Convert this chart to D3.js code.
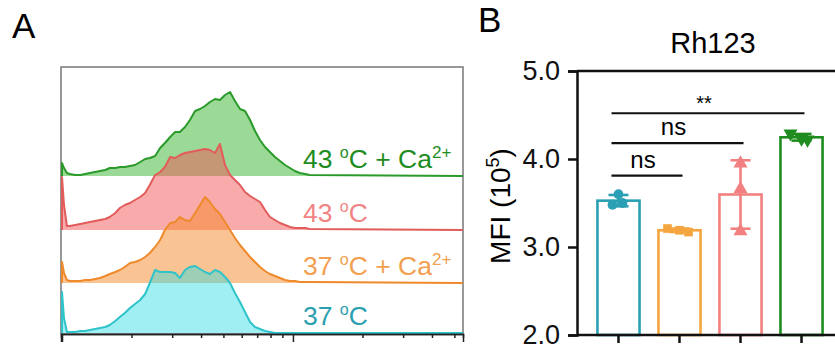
<!DOCTYPE html>
<html>
<head>
<meta charset="utf-8">
<script src="https://cdn.jsdelivr.net/npm/d3@7"></script>
<style>
  body { margin: 0; background: #fff; }
  svg { display: block; }
  text { font-family: "Liberation Sans", Arial, sans-serif; }
</style>
</head>
<body>
<svg width="835" height="351"></svg>
<script>
// ---------- data: panel A (flow histograms, Rh123 intensity, log axis) ----------
const binIntensity = [1000, 1020, 1050, 1080, 1140, 1200, 1260, 1320, 1390, 1460, 1540, 1610, 1700,
  1780, 1870, 1970, 2070, 2180, 2290, 2400, 2530, 2660, 2790, 2940, 3090, 3240, 3410, 3580, 3770,
  3960, 4160, 4370, 4600, 4830, 5080, 5340, 5610, 5900, 6200, 6520, 6850, 7200, 7570, 7950, 8360,
  8790, 9240, 9710, 10200, 10700, 11300, 11800];

const count37 = [41, 15, 1, 1, 1, 2, 2, 3, 4, 5, 6, 8, 12, 16, 20, 25, 29, 33, 39, 50, 63, 61, 61, 61,
  60, 55, 63, 66, 67, 64, 61, 59, 63, 61, 56, 50, 40, 31, 21, 11, 6, 4, 2, 1, 0, 0, 0, 0, 0, 0, 0, 0];
const count37Ca = [21, 10, 3, 2, 2, 2, 3, 3, 4, 5, 7, 9, 11, 13, 16, 20, 21, 23, 26, 30, 36, 43, 53, 60,
  61, 66, 63, 62, 70, 78, 86, 81, 74, 69, 61, 53, 45, 38, 32, 26, 21, 16, 12, 9, 7, 5, 3, 2, 2, 1, 1, 1];
const count43 = [53, 25, 4, 4, 5, 6, 7, 8, 9, 10, 11, 13, 17, 22, 25, 27, 30, 33, 37, 45, 55, 58, 63, 73,
  72, 75, 77, 78, 79, 80, 81, 80, 77, 86, 65, 55, 50, 45, 38, 34, 31, 28, 20, 13, 10, 7, 5, 3, 2, 2, 2, 1];
const count43Ca = [13, 8, 3, 2, 1, 1, 2, 3, 4, 5, 6, 8, 8, 9, 9, 10, 11, 14, 17, 18, 20, 28, 33, 39,
  44, 44, 49, 56, 65, 67, 70, 74, 77, 76, 81, 84, 75, 67, 65, 56, 45, 36, 29, 24, 19, 15, 11, 8, 5, 3, 2, 1];

const majorTicks = [1000, 10000];
const minorTicks = [2000, 3000, 4000, 5000, 6000, 7000, 8000, 9000, 20000, 30000, 40000, 50000];

// ---------- data: panel B (MFI bars) ----------
const groups = ['37 °C', '37 °C + Ca2+', '43 °C', '43 °C + Ca2+'];
const groupTemp = ['37', '37', '43', '43'];
const groupCa = [false, true, false, true];
const mfiReplicates = [
  [3.60, 3.48, 3.50],
  [3.21, 3.19, 3.17],
  [3.95, 3.66, 3.18],
  [4.29, 4.23, 4.22]
];
const yTicks = [2.0, 3.0, 4.0, 5.0];
const comparisons = [
  { a: 0, b: 1, label: 'ns', level: 3.81 },
  { a: 0, b: 2, label: 'ns', level: 4.18 },
  { a: 0, b: 3, label: '**', level: 4.52 }
];

// ---------- styles ----------
const lineColor = ['#2fc3ca', '#ee8a2c', '#e25c5c', '#2a9a2a'];
const fillColor = ['rgba(45,222,228,0.45)', 'rgba(245,135,40,0.5)', 'rgba(242,80,80,0.48)', 'rgba(55,180,45,0.5)'];
const textColor = ['#2a9fb0', '#f2a050', '#f08484', '#1e8c1e'];
const barColor = ['#2b9fb3', '#f5a540', '#f28080', '#1e8c1e'];

const svg = d3.select('svg');

// ================= Panel A =================
svg.append('text').attr('x', 12).attr('y', 38).attr('font-size', '35px').text('A');

const boxL = 61, boxR = 463, boxT = 67, boxB = 334;
const x = d3.scaleLog().domain([990, 54500]).range([boxL, boxR]);
const yCount = d3.scaleLinear().domain([0, 100]).range([0, 100]);
const laneBase = d3.scaleOrdinal().domain([0, 1, 2, 3]).range([333, 283, 230, 176]);

svg.append('rect')
  .attr('x', boxL).attr('y', boxT)
  .attr('width', boxR - boxL).attr('height', boxB - boxT)
  .attr('fill', 'none').attr('stroke', '#777').attr('stroke-width', 1.5);

const seriesCounts = [count37, count37Ca, count43, count43Ca];
const gHist = svg.append('g');

// draw from the top lane down so lower lanes overlay upper ones
[3, 2, 1, 0].forEach(function (i) {
  const base = laneBase(i);
  const pts = [{ v: binIntensity[0], c: 0 }]
    .concat(binIntensity.map(function (v, k) { return { v: v, c: seriesCounts[i][k] }; }))
    .concat([{ v: x.domain()[1], c: 0 }]);
  const area = d3.area()
    .x(function (d) { return x(d.v); })
    .y0(base)
    .y1(function (d) { return base - yCount(d.c); });
  const line = d3.line()
    .x(function (d) { return x(d.v); })
    .y(function (d) { return base - yCount(d.c); });
  gHist.append('path').attr('d', area(pts)).attr('fill', fillColor[i]);
  gHist.append('path').attr('d', line(pts))
    .attr('fill', 'none').attr('stroke', lineColor[i])
    .attr('stroke-width', 2).attr('stroke-linejoin', 'round');
});

// bottom log axis
const axMajor = svg.append('g').attr('transform', 'translate(0,' + boxB + ')')
  .call(d3.axisBottom(x).tickValues(majorTicks).tickSize(8).tickFormat(''));
const axMinor = svg.append('g').attr('transform', 'translate(0,' + boxB + ')')
  .call(d3.axisBottom(x).tickValues(minorTicks).tickSize(4).tickFormat(''));
[axMajor, axMinor].forEach(function (ax) {
  ax.select('.domain').attr('stroke', '#222').attr('stroke-width', 1.5);
  ax.selectAll('.tick line').attr('stroke', '#222').attr('stroke-width', 1.5);
});

// lane labels
groups.forEach(function (name, i) {
  const t = svg.append('text')
    .attr('x', 303).attr('y', laneBase(i) - 8)
    .attr('font-size', '26.5px').attr('fill', textColor[i]);
  t.append('tspan').text(groupTemp[i] + ' ');
  t.append('tspan').attr('font-size', '16px').attr('dy', -10).text('o');
  t.append('tspan').attr('dy', 10).text('C');
  if (groupCa[i]) {
    t.append('tspan').text(' + Ca');
    t.append('tspan').attr('font-size', '17px').attr('dy', -10).text('2+');
  }
});

// ================= Panel B =================
svg.append('text').attr('x', 478).attr('y', 32).attr('font-size', '35px').text('B');

const axX = 577;
const xb = d3.scaleBand().domain(groups).range([577, 843]).paddingInner(0.31).paddingOuter(0.335);
const yb = d3.scaleLinear().domain([2, 5]).range([335, 71]);

svg.append('text')
  .attr('x', 713).attr('y', 53).attr('text-anchor', 'middle')
  .attr('font-size', '29px').text('Rh123');

// y label
const yl = svg.append('text')
  .attr('transform', 'translate(510,' + 206 + ') rotate(-90)')
  .attr('text-anchor', 'middle').attr('font-size', '28px');
yl.append('tspan').text('MFI (10');
yl.append('tspan').attr('font-size', '18px').attr('dy', -11).text('5');
yl.append('tspan').attr('dy', 11).text(')');

// bars
const means = mfiReplicates.map(function (r) { return d3.mean(r); });
const sds = mfiReplicates.map(function (r) { return d3.deviation(r); });

svg.append('g').selectAll('rect')
  .data(groups)
  .enter().append('rect')
  .attr('x', function (d) { return xb(d); })
  .attr('y', function (d, i) { return yb(means[i]); })
  .attr('width', xb.bandwidth())
  .attr('height', function (d, i) { return yb(2) - yb(means[i]); })
  .attr('fill', '#fff')
  .attr('stroke', function (d, i) { return barColor[i]; })
  .attr('stroke-width', 2.6);

// error bars (mean ± SD)
const gErr = svg.append('g');
groups.forEach(function (g, i) {
  const cx = xb(g) + xb.bandwidth() / 2;
  const hi = yb(means[i] + sds[i]), lo = yb(means[i] - sds[i]);
  gErr.append('line').attr('x1', cx).attr('x2', cx).attr('y1', hi).attr('y2', lo)
    .attr('stroke', barColor[i]).attr('stroke-width', 2.6);
  [hi, lo].forEach(function (yy) {
    gErr.append('line').attr('x1', cx - 10).attr('x2', cx + 10).attr('y1', yy).attr('y2', yy)
      .attr('stroke', barColor[i]).attr('stroke-width', 2.6);
  });
});

// replicate points
const jitter = [[0, -6, 4], [-12, 0, 9], [0, 0, 0], [-11, 0, 6]];
const shapes = [d3.symbolCircle, d3.symbolSquare, d3.symbolTriangle, d3.symbolTriangle];
const shapeSize = [75, 75, 85, 85];
const gPts = svg.append('g');
mfiReplicates.forEach(function (reps, i) {
  const cx = xb(groups[i]) + xb.bandwidth() / 2;
  reps.forEach(function (v, k) {
    gPts.append('path')
      .attr('d', d3.symbol().type(shapes[i]).size(shapeSize[i])())
      .attr('transform', 'translate(' + (cx + jitter[i][k]) + ',' + yb(v) + ')' + (i === 3 ? ' rotate(180)' : ''))
      .attr('fill', barColor[i]);
  });
});

// axes
const axL = svg.append('g').attr('transform', 'translate(' + axX + ',0)')
  .call(d3.axisLeft(yb).tickValues(yTicks).tickFormat(d3.format('.1f')).tickSize(9).tickPadding(8));
axL.selectAll('text').attr('font-size', '27px').attr('fill', '#111')
  .attr('font-family', '"Liberation Sans", Arial, sans-serif');

const axB = svg.append('g').attr('transform', 'translate(0,' + yb(2) + ')')
  .call(d3.axisBottom(xb).tickSize(8).tickFormat('').tickSizeOuter(0));
axB.select('.domain').attr('d', 'M' + axX + ',0H850');

svg.append('line')
  .attr('x1', axX).attr('x2', 850).attr('y1', yb(5)).attr('y2', yb(5))
  .attr('stroke', '#111').attr('stroke-width', 2.5);

[axL, axB].forEach(function (ax) {
  ax.select('.domain').attr('stroke', '#111').attr('stroke-width', 2.5);
  ax.selectAll('.tick line').attr('stroke', '#111').attr('stroke-width', 2.5);
});

// significance lines
const gSig = svg.append('g');
comparisons.forEach(function (c) {
  const x1 = xb(groups[c.a]) + xb.bandwidth() / 2 - 7;
  const x2 = xb(groups[c.b]) + xb.bandwidth() / 2 + 3;
  const yy = yb(c.level);
  gSig.append('line').attr('x1', x1).attr('x2', x2).attr('y1', yy).attr('y2', yy)
    .attr('stroke', '#111').attr('stroke-width', 2.2);
  gSig.append('text')
    .attr('x', (x1 + x2) / 2 - 4)
    .attr('y', c.label === '**' ? yy - 3 : yy - 8)
    .attr('text-anchor', 'middle')
    .attr('font-size', c.label === '**' ? '20px' : '24px')
    .text(c.label);
});
</script>
</body>
</html>
